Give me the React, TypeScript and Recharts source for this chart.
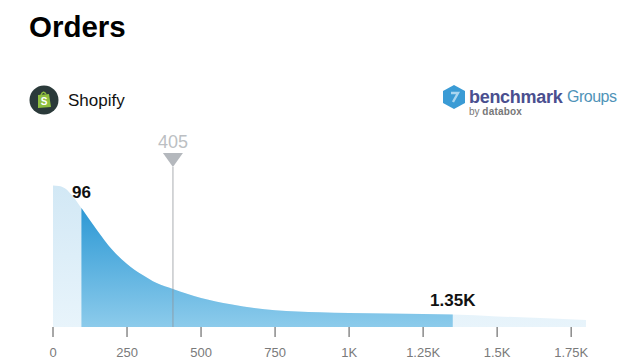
import { Area, ComposedChart, ReferenceDot, ReferenceLine, XAxis, YAxis } from 'recharts';

const FONT = "'Liberation Sans', Arial, sans-serif";

const orderValues = [0, 20, 40, 68, 96, 150, 200, 250, 300, 350, 405, 500, 600, 750, 900, 1000, 1250, 1350, 1500, 1800];
const shareValues = [100, 99.6, 98, 92, 84, 68, 54.5, 44.5, 37, 31, 26.8, 20.5, 16, 11.8, 10.4, 9.9, 9.2, 8.8, 7.5, 5];
const tickValues = [0, 250, 500, 750, 1000, 1250, 1500, 1750];
const tickLabels = ['0', '250', '500', '750', '1K', '1.25K', '1.5K', '1.75K'];

const lowValue = 96;
const medianValue = 405;
const highValue = 1350;

const chartData = orderValues.map((orders, i) => ({
  orders,
  share: shareValues[i],
  range: orders >= lowValue && orders <= highValue ? shareValues[i] : null,
}));

function MedianMarker({ cx, cy }: any) {
  return (
    <g>
      <polygon points={`${cx - 10},${cy - 14} ${cx + 10},${cy - 14} ${cx},${cy}`} fill="#b4b8bd" />
      <text x={cx} y={cy - 19} textAnchor="middle" fontFamily={FONT} fontSize={18} fill="#bcbfc3">
        {medianValue}
      </text>
    </g>
  );
}

function ValueLabel({ cx, cy, dy, text }: any) {
  return (
    <text x={cx} y={cy + dy} textAnchor="middle" fontFamily={FONT} fontSize={17} fontWeight={700} fill="#111">
      {text}
    </text>
  );
}

function ShopifyBadge() {
  return (
    <svg width={30} height={30} style={{ position: 'absolute', left: 29, top: 85 }}>
      <circle cx={15} cy={15} r={14.5} fill="#2b3a3a" />
      <path d="M9 10 L20 9 L22 22 L9 23 Z" fill="#8fbf3f" />
      <path d="M12 10 Q14 5 17 9" fill="none" stroke="#8fbf3f" strokeWidth={1.4} />
      <text x={15} y={20} textAnchor="middle" fontFamily={FONT} fontSize={10} fontWeight={700} fill="#fff">
        S
      </text>
    </svg>
  );
}

function BenchmarkLogo() {
  return (
    <div style={{ position: 'absolute', left: 442, top: 84, width: 190, height: 36 }}>
      <svg width={24} height={26} style={{ position: 'absolute', left: 0, top: 0 }}>
        <polygon points="12,1 23,7 23,19 12,25 1,19 1,7" fill="#3a9bd5" />
        <path d="M9 9 L16 9 L11 18" fill="none" stroke="#a9d6f0" strokeWidth={2.4} />
      </svg>
      <span style={{ position: 'absolute', left: 27, top: 0, fontFamily: FONT, fontSize: 18, fontWeight: 700, color: '#4a4f8f', letterSpacing: -0.3, lineHeight: '26px' }}>
        benchmark
      </span>
      <span style={{ position: 'absolute', left: 125, top: 0, fontFamily: FONT, fontSize: 16, color: '#4f93b8', letterSpacing: -0.5, lineHeight: '26px' }}>
        Groups
      </span>
      <span style={{ position: 'absolute', left: 27, top: 22, fontFamily: FONT, fontSize: 10, color: '#777', lineHeight: '12px' }}>
        by <b style={{ letterSpacing: 0.2 }}>databox</b>
      </span>
    </div>
  );
}

export default function App() {
  return (
    <div style={{ position: 'absolute', left: 0, top: 0, width: 640, height: 360, background: '#fff', overflow: 'hidden' }}>
      <div style={{ position: 'absolute', left: 29, top: 10, fontFamily: FONT, fontSize: 29.5, fontWeight: 700, color: '#000', lineHeight: '34px' }}>
        Orders
      </div>
      <ShopifyBadge />
      <div style={{ position: 'absolute', left: 68, top: 90, fontFamily: FONT, fontSize: 17, color: '#111', lineHeight: '22px' }}>
        Shopify
      </div>
      <BenchmarkLogo />

      <ComposedChart width={640} height={360} data={chartData} margin={{ top: 167, right: 54, bottom: 0, left: 53 }}>
        <defs>
          <linearGradient id="paleFill" x1="0" y1="0" x2="0" y2="1">
            <stop offset="0%" stopColor="#d2e8f5" />
            <stop offset="100%" stopColor="#e8f4fb" />
          </linearGradient>
          <linearGradient id="rangeFill" gradientUnits="userSpaceOnUse" x1="0" y1="205" x2="0" y2="327">
            <stop offset="0%" stopColor="#2a97d4" />
            <stop offset="100%" stopColor="#8ccbeb" />
          </linearGradient>
        </defs>
        <XAxis
          dataKey="orders"
          type="number"
          domain={[0, 1800]}
          ticks={tickValues}
          tickFormatter={(v: number) => tickLabels[tickValues.indexOf(v)]}
          axisLine={false}
          tickSize={10}
          tickMargin={11}
          tick={{ fontFamily: FONT, fontSize: 13, fill: '#7a7a7a' }}
          tickLine={{ stroke: '#8a8a8a', strokeWidth: 1.5 }}
          interval={0}
          height={33}
        />
        <YAxis hide domain={[0, 113]} />
        <Area type="monotone" dataKey="share" stroke="none" fill="url(#paleFill)" fillOpacity={1} isAnimationActive={false} />
        <Area type="monotone" dataKey="range" stroke="none" fill="url(#rangeFill)" fillOpacity={1} isAnimationActive={false} />
        <ReferenceLine x={medianValue} stroke="#8f9499" strokeOpacity={0.5} strokeWidth={1.5} />
        <ReferenceDot x={medianValue} y={113} ifOverflow="visible" shape={<MedianMarker />} />
        <ReferenceDot x={lowValue} y={84} ifOverflow="visible" shape={<ValueLabel dy={-10} text="96" />} />
        <ReferenceDot x={highValue} y={8.8} ifOverflow="visible" shape={<ValueLabel dy={-9} text="1.35K" />} />
      </ComposedChart>
    </div>
  );
}
